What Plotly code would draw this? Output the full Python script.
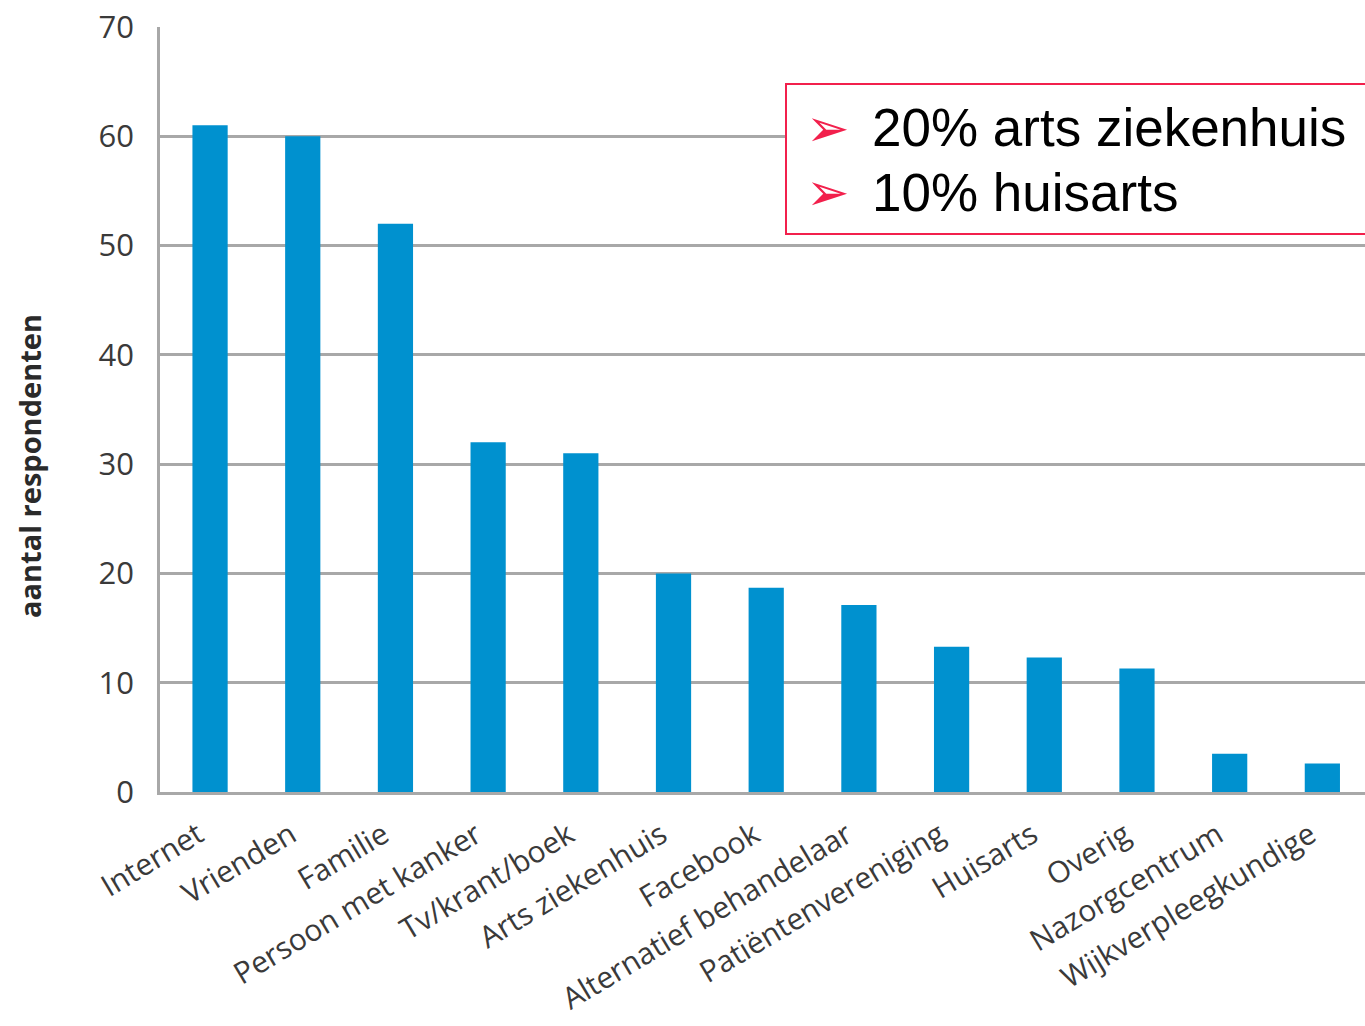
import plotly.graph_objects as go

categories = ["Internet", "Vrienden", "Familie", "Persoon met kanker", "Tv/krant/boek",
              "Arts ziekenhuis", "Facebook", "Alternatief behandelaar", "Patiëntenvereniging",
              "Huisarts", "Overig", "Nazorgcentrum", "Wijkverpleegkundige"]
values = [61, 60, 52, 32, 31, 20, 18.7, 17.1, 13.3, 12.3, 11.3, 3.5, 2.6]
y_ticks = [0, 10, 20, 30, 40, 50, 60, 70]
y_title = "aantal respondenten"
box_lines = ["20% arts ziekenhuis", "10% huisarts"]

BLUE = "#0091cf"
GRID = "#a8a8a8"
TXT = "#3a3a3a"
RED = "#f2204c"

W, H = 1365, 1026
L, R, T, B = 160, 0, 27, 234
pw, ph = W - L - R, H - T - B

def px(x):
    return (x - L) / pw

def py(y):
    return (H - B - y) / ph

fig = go.Figure(go.Bar(x=categories, y=values, marker_color=BLUE, marker_line_width=0, width=0.38))

fig.update_layout(
    width=W, height=H,
    margin=dict(l=L, r=R, t=T, b=B, pad=0, autoexpand=False),
    plot_bgcolor="white", paper_bgcolor="white",
    showlegend=False,
    font=dict(family="Open Sans", color=TXT),
)
fig.update_xaxes(
    range=[-0.54, 12.46], showgrid=False, showline=True, linecolor=GRID, linewidth=2.5,
    ticks="", tickangle=-31, tickfont=dict(size=30, color=TXT, family="Open Sans"),
    ticklabelstandoff=11, ticklabelshift=-12, automargin=False,
)
fig.update_yaxes(
    range=[0, 70], tickvals=y_ticks, showgrid=True, gridcolor=GRID, gridwidth=2.5,
    showline=True, linecolor=GRID, linewidth=2.5, zeroline=False, ticks="",
    tickfont=dict(size=31, color=TXT, family="Open Sans"), ticklabelstandoff=17,
    automargin=False,
)

# y title
fig.add_annotation(text="<b>" + y_title + "</b>", xref="paper", yref="paper",
                   x=px(30), y=py(466), textangle=-90, showarrow=False,
                   font=dict(size=29, color="#2a2a2a", family="Open Sans"),
                   xanchor="center", yanchor="middle")

# callout box
fig.add_shape(type="rect", xref="paper", yref="paper", x0=px(786), x1=px(1380),
              y0=py(234), y1=py(84), line=dict(color=RED, width=2), fillcolor="white", layer="above")
for i, line in enumerate(box_lines):
    yc = 128 + i * 64
    fig.add_annotation(text="➢", xref="paper", yref="paper", x=px(828), y=py(yc),
                       showarrow=False, xanchor="center", yanchor="middle",
                       font=dict(size=52, color=RED, family="DejaVu Sans"))
    fig.add_annotation(text=line, xref="paper", yref="paper", x=px(870), y=py(yc),
                       showarrow=False, xanchor="left", yanchor="middle",
                       font=dict(size=53, color="black", family="Liberation Sans"))

fig.write_html("out.html", config={"displayModeBar": False},
               post_script="document.body.style.margin='0';")
